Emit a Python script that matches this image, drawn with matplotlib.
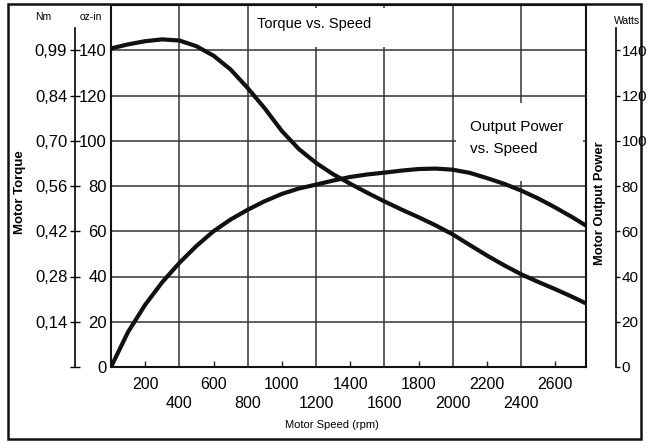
import matplotlib
matplotlib.use('Agg')
import matplotlib.pyplot as plt
from matplotlib.patches import Rectangle

plt.rcParams['font.family'] = ['Liberation Sans Narrow', 'Liberation Sans', 'DejaVu Sans']

# motor speed (rpm) and the two curves
rpm = [0, 100, 200, 300, 400, 500, 600, 700, 800, 900, 1000, 1100, 1200, 1300,
       1400, 1500, 1600, 1700, 1800, 1900, 2000, 2100, 2200, 2300, 2400, 2500,
       2600, 2700, 2780]
torque_ozin = [140.8, 142.6, 144.0, 144.8, 144.3, 141.8, 137.6, 131.5, 123.3,
               114.3, 104.3, 96.3, 90.2, 85.2, 81.0, 77.0, 73.2, 69.6, 66.2,
               62.6, 58.6, 53.9, 49.3, 45.0, 41.0, 37.6, 34.4, 31.0, 28.1]
power_w = [0, 15.5, 27.5, 37.5, 46.0, 53.5, 60.0, 65.2, 69.5, 73.3, 76.5,
           78.9, 80.6, 82.4, 84.0, 85.1, 85.9, 86.8, 87.5, 87.7, 87.2, 85.8,
           83.5, 81.0, 78.0, 74.5, 70.5, 66.2, 62.5]

ozin_ticks = [0, 20, 40, 60, 80, 100, 120, 140]
nm_labels = ['', '0,14', '0,28', '0,42', '0,56', '0,70', '0,84', '0,99']
watt_ticks = [0, 20, 40, 60, 80, 100, 120, 140]
x_grid = [400, 800, 1200, 1600, 2000, 2400]
x_minor = [200, 600, 1000, 1400, 1800, 2200, 2600]

W, H = 647, 442
fig = plt.figure(figsize=(W / 100, H / 100), dpi=100)


def fx(px):
    return px / W


def fy(py):
    return 1 - py / H


# main plot area
left, right, top, bottom = 111, 586, 5, 367
ax = fig.add_axes([fx(left), fy(bottom), fx(right - left), (bottom - top) / H])
ax.set_xlim(0, 2780)
ax.set_ylim(0, 160)

ax.set_yticks(ozin_ticks)
ax.tick_params(axis='y', length=0, pad=3, labelsize=12)
ax.set_xticks(x_grid)
ax.set_xticks(x_minor, minor=True)
ax.set_xticklabels([str(v) for v in x_grid])
ax.set_xticklabels([str(v) for v in x_minor], minor=True)
ax.tick_params(axis='x', which='major', length=0, pad=21, labelsize=11.5)
ax.tick_params(axis='x', which='minor', direction='in', length=4, width=1,
               pad=7, labelsize=11.5, color='#222222')
ax.grid(True, which='major', color='#333333', linewidth=1.1)
ax.set_axisbelow(True)
for s in ax.spines.values():
    s.set_linewidth(1.5)
    s.set_color('#111111')

# white boxes behind the in-plot captions
ax.add_patch(Rectangle((820, 141.5), 820, 17, facecolor='white',
                       edgecolor='none', zorder=1.5))
ax.add_patch(Rectangle((2020, 82), 740, 34.5, facecolor='white',
                       edgecolor='none', zorder=1.5))

ax.plot(rpm, torque_ozin, color='#111111', linewidth=3, zorder=3,
        solid_joinstyle='round')
ax.plot(rpm, power_w, color='#111111', linewidth=3, zorder=3,
        solid_joinstyle='round')

ax.text(855, 151.5, 'Torque vs. Speed', fontsize=10.5, va='center',
        ha='left', zorder=4)
ax.text(2100, 106, 'Output Power', fontsize=11, va='center', ha='left',
        zorder=4)
ax.text(2100, 96.5, 'vs. Speed', fontsize=11, va='center', ha='left',
        zorder=4)

# Nm axis (left, zero width)
axl = fig.add_axes([fx(75), fy(bottom), 1e-6, (bottom - top) / H])
axl.set_ylim(0, 160)
axl.set_xticks([])
axl.set_yticks(ozin_ticks)
axl.set_yticklabels(nm_labels)
axl.tick_params(axis='y', direction='inout', length=7, width=1, pad=2,
                labelsize=12)
for side in ['top', 'bottom', 'right']:
    axl.spines[side].set_visible(False)
axl.spines['left'].set_bounds(0, 150)
axl.spines['left'].set_linewidth(1.2)
axl.patch.set_visible(False)

# Watts axis (right, zero width)
axw = fig.add_axes([fx(616), fy(bottom), 1e-6, (bottom - top) / H])
axw.set_ylim(0, 160)
axw.set_xticks([])
axw.yaxis.tick_right()
axw.set_yticks(watt_ticks)
axw.tick_params(axis='y', direction='out', length=3, width=1, pad=1,
                labelsize=11)
for side in ['top', 'bottom', 'left']:
    axw.spines[side].set_visible(False)
axw.spines['right'].set_bounds(0, 150)
axw.spines['right'].set_linewidth(1.2)
axw.patch.set_visible(False)

# headers and axis titles
fig.text(fx(43), fy(17), 'Nm', fontsize=7.5, ha='center', va='center')
fig.text(fx(91), fy(17), 'oz-in', fontsize=7.5, ha='center', va='center')
fig.text(fx(627), fy(21), 'Watts', fontsize=7.5, ha='center', va='center')
fig.text(fx(20), fy(192), 'Motor Torque', fontsize=9.5, fontweight='bold',
         rotation=90, ha='center', va='center')
fig.text(fx(600), fy(203), 'Motor Output Power', fontsize=9.3,
         fontweight='bold', rotation=90, ha='center', va='center')
fig.text(fx(332), fy(425), 'Motor Speed (rpm)', fontsize=8, ha='center',
         va='center')

# outer frame
fig.patches.append(Rectangle((fx(8), fy(439)), fx(641 - 8), (439 - 4) / H,
                             transform=fig.transFigure, fill=False,
                             edgecolor='#111111', linewidth=1.8))

fig.savefig('out.png', dpi=100)
